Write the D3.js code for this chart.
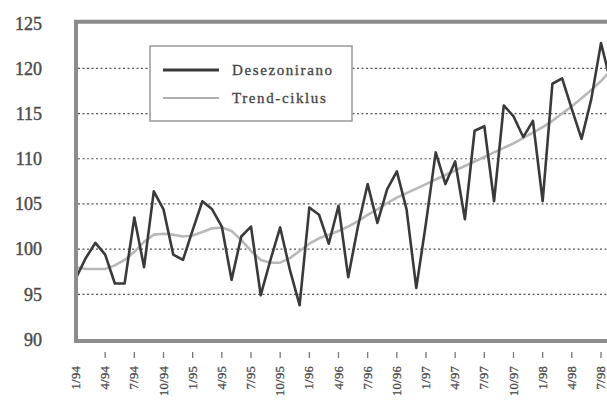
<!DOCTYPE html>
<html><head><meta charset="utf-8">
<script src="https://cdn.jsdelivr.net/npm/d3@7"></script>
<style>body{margin:0;background:#fff;overflow:hidden}svg{display:block}</style>
</head><body>
<script>
// Monthly data, starting 1/94
const desezonirano = [96.8, 99.0, 100.7, 99.4, 96.2, 96.2, 103.5, 98.0, 106.4, 104.4, 99.4, 98.8,
  102.1, 105.3, 104.4, 102.5, 96.6, 101.4, 102.5, 94.9, 98.8, 102.4, 97.7, 93.8,
  104.6, 103.8, 100.6, 104.8, 96.9, 102.5, 107.2, 102.9, 106.6, 108.6, 104.4, 95.7,
  102.9, 110.7, 107.2, 109.7, 103.3, 113.1, 113.6, 105.3, 115.9, 114.7, 112.4, 114.2,
  105.3, 118.3, 118.9, 115.5, 112.2, 116.6, 122.8, 118.5];
const trendCiklus = [98.0, 97.8, 97.8, 97.8, 98.2, 98.8, 99.7, 100.8, 101.6, 101.7, 101.6, 101.4,
  101.5, 101.9, 102.3, 102.4, 102.0, 101.0, 99.8, 98.8, 98.5, 98.5, 99.0, 99.8,
  100.6, 101.2, 101.6, 102.0, 102.5, 103.1, 103.8, 104.4, 105.1, 105.7, 106.2, 106.7,
  107.2, 107.7, 108.2, 108.7, 109.2, 109.7, 110.2, 110.7, 111.2, 111.7, 112.3, 112.9,
  113.5, 114.2, 115.0, 115.8, 116.7, 117.6, 118.6, 119.8];
const tickLabels = ["1/94","4/94","7/94","10/94","1/95","4/95","7/95","10/95","1/96","4/96",
  "7/96","10/96","1/97","4/97","7/97","10/97","1/98","4/98","7/98"];
const yTicks = [90, 95, 100, 105, 110, 115, 120, 125];
const gridValues = [95, 100, 105, 110, 115, 120];
const seriesNames = ["Desezonirano", "Trend-ciklus"];

const W = 607, H = 401;
const svg = d3.select("body").append("svg").attr("width", W).attr("height", H);

const x = d3.scaleLinear().domain([0, 54]).range([76, 601]);
const y = d3.scaleLinear().domain([90, 125]).range([339.5, 23.2]);

const serif = "Liberation Serif, DejaVu Serif, serif";

// gridlines
svg.append("g").selectAll("line").data(gridValues).join("line")
  .attr("x1", 78).attr("x2", W + 5)
  .attr("y1", d => y(d)).attr("y2", d => y(d))
  .attr("stroke", "#555").attr("stroke-width", 1.2).attr("stroke-dasharray", "2,2.5");

// y labels
svg.append("g").selectAll("text").data(yTicks).join("text")
  .attr("x", 42).attr("y", d => y(d)).attr("dy", "0.35em")
  .attr("text-anchor", "end")
  .attr("font-family", serif).attr("font-size", 18)
  .attr("fill", "#4a4a4a").attr("stroke", "#4a4a4a").attr("stroke-width", 0.4)
  .text(d => d);

// x ticks and labels (quarterly)
const qIdx = tickLabels.map((d, i) => i * 3);
svg.append("g").selectAll("line").data(qIdx.slice(1)).join("line")
  .attr("x1", d => x(d)).attr("x2", d => x(d))
  .attr("y1", 352).attr("y2", 358)
  .attr("stroke", "#777").attr("stroke-width", 1.3);
svg.append("g").selectAll("text").data(tickLabels).join("text")
  .attr("transform", (d, i) => `translate(${x(i * 3) + 4},366) rotate(-90)`)
  .attr("text-anchor", "end")
  .attr("font-family", serif).attr("font-size", 12.5).style("letter-spacing", "0.3px")
  .attr("fill", "#4a4a4a").attr("stroke", "#4a4a4a").attr("stroke-width", 0.3)
  .text(d => d);

// lines
const line = d3.line().x((d, i) => x(i)).y(d => y(d));
svg.append("path").datum(trendCiklus).attr("d", line)
  .attr("fill", "none").attr("stroke", "#b8b8b8").attr("stroke-width", 2.6)
  .attr("stroke-linejoin", "round");
svg.append("path").datum(desezonirano).attr("d", line)
  .attr("fill", "none").attr("stroke", "#3a3a3a").attr("stroke-width", 2.6)
  .attr("stroke-linejoin", "round");

// frame
svg.append("path")
  .attr("d", `M${W + 5},${y(125) - 1.5} H76 V${y(90) + 1.5} H${W + 5}`)
  .attr("fill", "none").attr("stroke", "#8c8c8c").attr("stroke-width", 4);

// legend
const lg = svg.append("g");
lg.append("rect").attr("x", 150).attr("y", 46).attr("width", 202).attr("height", 75)
  .attr("fill", "#fff").attr("stroke", "#999").attr("stroke-width", 1.5);
const legY = [70, 98];
const legStroke = ["#3a3a3a", "#b0b0b0"];
const legW = [3, 2];
seriesNames.forEach((n, i) => {
  lg.append("line").attr("x1", 163).attr("x2", 219).attr("y1", legY[i]).attr("y2", legY[i])
    .attr("stroke", legStroke[i]).attr("stroke-width", legW[i]);
  lg.append("text").attr("x", 232).attr("y", legY[i] + 5)
    .attr("font-family", serif).attr("font-size", 15).style("letter-spacing", "1.6px")
    .attr("fill", "#444").attr("stroke", "#444").attr("stroke-width", 0.3)
    .text(n);
});
</script>
</body></html>
